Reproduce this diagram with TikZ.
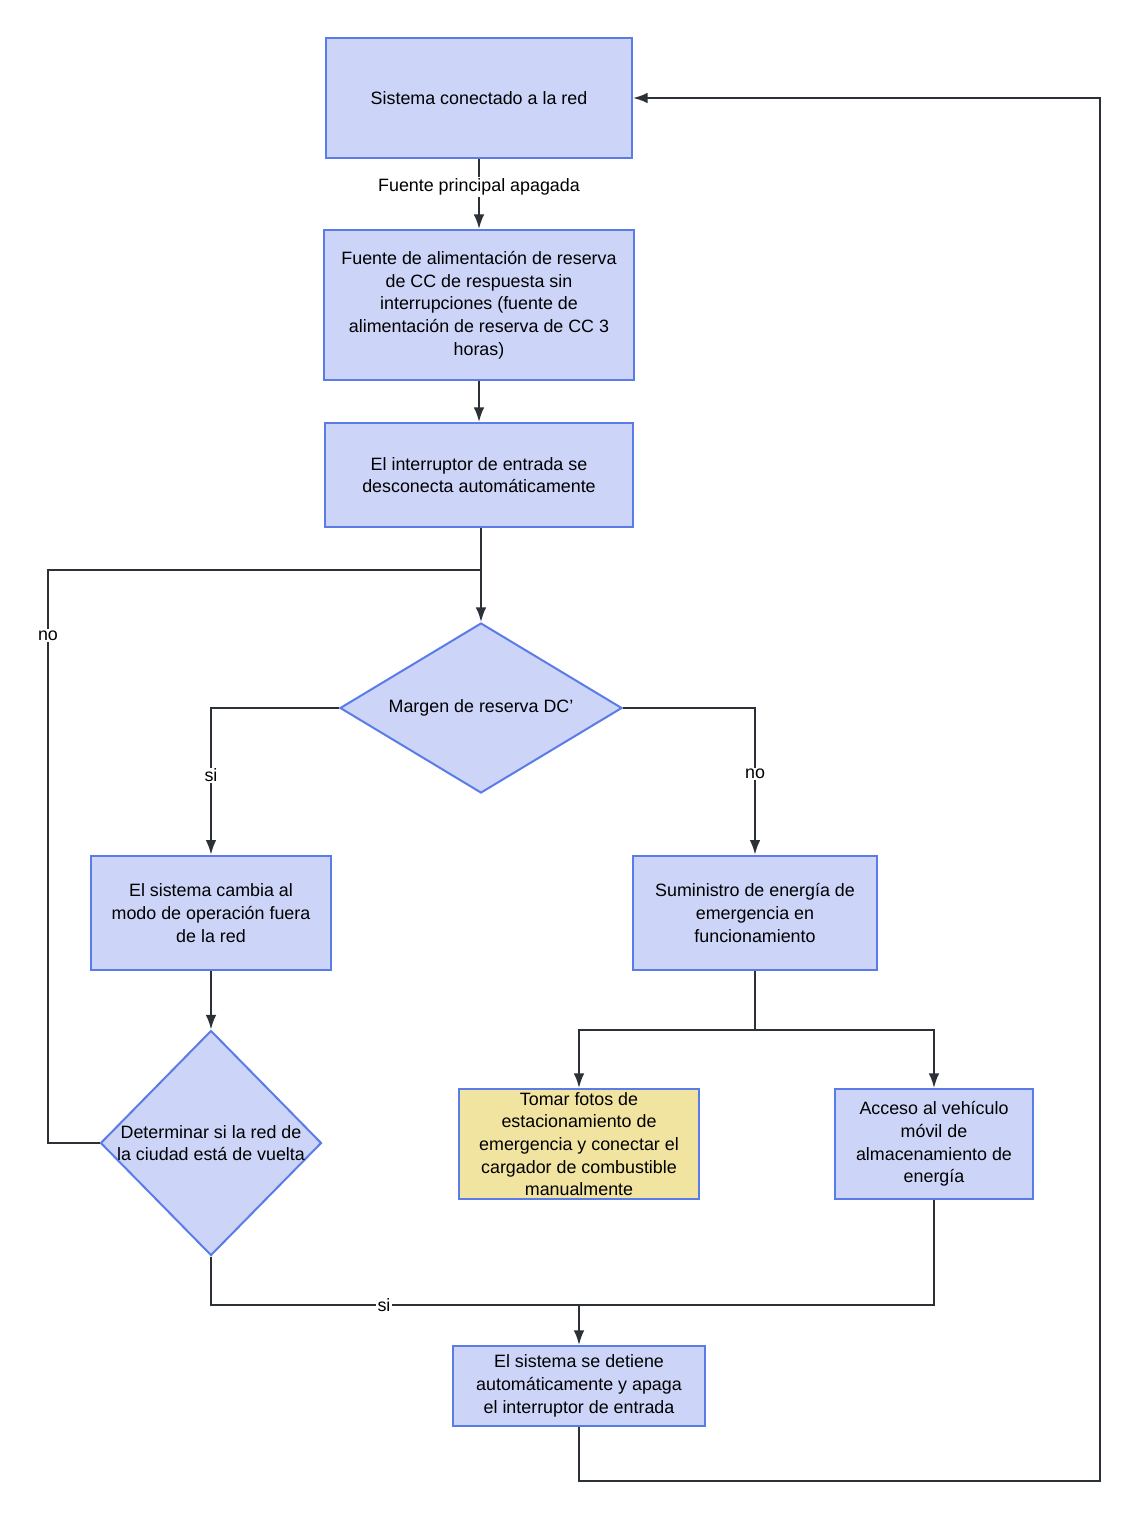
\documentclass[tikz,border=0pt]{standalone}
\usepackage{fontspec}
\setmainfont{Liberation Sans}
\usetikzlibrary{shapes.geometric,arrows.meta}
\definecolor{bfill}{HTML}{CCD5F8}
\definecolor{bdraw}{HTML}{5B7BE8}
\definecolor{yfill}{HTML}{F1E3A0}
\definecolor{ln}{HTML}{2B3136}
\begin{document}
\begin{tikzpicture}[x=0.75pt,y=-0.75pt,
  font=\fontsize{13.4}{17}\selectfont,
  box/.style={draw=bdraw,fill=bfill,line width=1.5pt,align=center,inner sep=0pt},
  dia/.style={diamond,draw=bdraw,fill=bfill,line width=1.5pt,inner sep=0pt,aspect=1},
  txt/.style={align=center,inner sep=0pt},
  con/.style={draw=ln,line width=1.5pt,-{Latex[length=11pt,width=8pt]}},
  ln/.style={draw=ln,line width=1.5pt},
  lab/.style={fill=white,inner sep=1pt}]
\useasboundingbox[fill=white] (0,0) rectangle (1137,1518);
\node[box,minimum width=229.5pt,minimum height=90pt] (n1) at (479,98) {Sistema conectado a la red};
\node[box,minimum width=232.5pt,minimum height=112.5pt] (n2) at (479,305) {Fuente de alimentación de reserva\\de CC de respuesta sin\\interrupciones (fuente de\\alimentación de reserva de CC 3\\horas)};
\node[box,minimum width=231pt,minimum height=78pt] (n3) at (479,475) {El interruptor de entrada se\\desconecta automáticamente};
\node[dia,minimum width=211.5pt,minimum height=127.5pt] (d1) at (481,708) {};
\node[txt] (t1) at (d1) {Margen de reserva DC'};
\node[box,minimum width=180pt,minimum height=86pt] (n4) at (211,913) {El sistema cambia al\\modo de operación fuera\\de la red};
\node[box,minimum width=183pt,minimum height=86pt] (n5) at (755,913) {Suministro de energía de\\emergencia en\\funcionamiento};
\node[dia,minimum width=165.75pt,minimum height=168.75pt] (d2) at (211,1143) {};
\node[txt] (t2) at (d2) {Determinar si la red de\\la ciudad está de vuelta};
\node[box,fill=yfill,minimum width=180pt,minimum height=82.5pt] (n6) at (579,1144) {Tomar fotos de\\estacionamiento de\\emergencia y conectar el\\cargador de combustible\\manualmente};
\node[box,minimum width=148.5pt,minimum height=82.5pt] (n7) at (934,1144) {Acceso al vehículo\\móvil de\\almacenamiento de\\energía};
\node[box,minimum width=189pt,minimum height=60pt] (n8) at (579,1386) {El sistema se detiene\\automáticamente y apaga\\el interruptor de entrada};
\coordinate (j1) at (481,570);
\coordinate (j2) at (755,1030);
\coordinate (j3) at (579,1305);
\draw[con] (n1) -- node[lab,pos=0.4]{Fuente principal apagada} (n2);
\draw[con] (n2) -- (n3);
\draw[con] (n3.south -| d1.north) -- (d1.north);
\draw[ln] (d2.west) -- (48,1143) -- node[lab,pos=0.886]{no} (48,570) -- (j1);
\draw[con] (d1.west) -- (211,708) -- node[lab,pos=0.46]{si} (n4.north);
\draw[con] (d1.east) -- (755,708) -- node[lab,pos=0.45]{no} (n5.north);
\draw[con] (n4) -- (d2.north);
\draw[ln] (n5.south) -- (j2);
\draw[con] (j2) -- (579,1030) -- (n6.north);
\draw[con] (j2) -- (934,1030) -- (n7.north);
\draw[ln] (d2.south) -- (211,1305) -- node[lab,pos=0.47]{si} (j3);
\draw[ln] (n7.south) -- (934,1305) -- (j3);
\draw[con] (j3) -- (n8.north);
\draw[con] (n8.south) -- (579,1481) -- (1100,1481) -- (1100,98) -- (n1.east);
\end{tikzpicture}
\end{document}
